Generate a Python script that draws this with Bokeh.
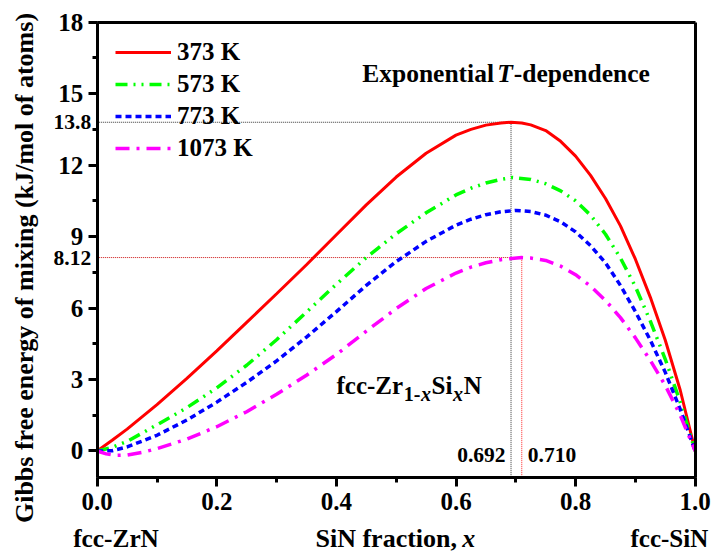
import math
from bokeh.plotting import figure
from bokeh.models import Range1d, FixedTicker, Label, Legend, LegendItem, NumeralTickFormatter, LinearAxis
from bokeh.embed import file_html
from bokeh.resources import INLINE

# ---- data ----
x_373 = [0.0, 0.025, 0.05, 0.1, 0.15, 0.2, 0.25, 0.3, 0.35, 0.4, 0.45, 0.5, 0.55, 0.6, 0.625, 0.65, 0.675,
         0.692, 0.71, 0.725, 0.75, 0.775, 0.8, 0.825, 0.85, 0.875, 0.9, 0.925, 0.95, 0.975, 1.0]
g_373 = [0.0, 0.45, 0.92, 1.95, 3.05, 4.2, 5.4, 6.6, 7.82, 9.08, 10.33, 11.5, 12.5, 13.26, 13.5, 13.68, 13.77,
         13.8, 13.77, 13.69, 13.45, 13.0, 12.38, 11.57, 10.6, 9.45, 8.05, 6.45, 4.65, 2.55, 0.0]

x_573 = [0.0, 0.025, 0.05, 0.1, 0.15, 0.2, 0.25, 0.3, 0.35, 0.4, 0.45, 0.5, 0.55, 0.6, 0.625, 0.65, 0.675,
         0.695, 0.725, 0.75, 0.775, 0.8, 0.825, 0.85, 0.875, 0.9, 0.925, 0.95, 0.975, 1.0]
g_573 = [0.0, 0.15, 0.4, 1.1, 1.82, 2.65, 3.6, 4.67, 5.83, 7.0, 8.12, 9.12, 10.0, 10.75, 11.03, 11.25, 11.4,
         11.48, 11.4, 11.22, 10.92, 10.5, 9.9, 9.1, 8.1, 6.9, 5.45, 3.85, 2.05, 0.0]

x_773 = [0.0, 0.025, 0.05, 0.1, 0.15, 0.2, 0.25, 0.3, 0.35, 0.4, 0.45, 0.5, 0.55, 0.6, 0.625, 0.65, 0.675,
         0.7, 0.725, 0.75, 0.775, 0.8, 0.825, 0.85, 0.875, 0.9, 0.925, 0.95, 0.975, 1.0]
g_773 = [0.0, 0.01, 0.17, 0.66, 1.3, 2.05, 2.88, 3.78, 4.78, 5.85, 6.95, 7.95, 8.8, 9.48, 9.73, 9.92, 10.04,
         10.1, 10.05, 9.9, 9.62, 9.2, 8.62, 7.9, 6.95, 5.85, 4.65, 3.3, 1.75, 0.0]

x_1073 = [0.0, 0.015, 0.03, 0.05, 0.075, 0.1, 0.15, 0.2, 0.25, 0.3, 0.35, 0.4, 0.45, 0.5, 0.55, 0.6, 0.625,
          0.65, 0.675, 0.71, 0.725, 0.75, 0.775, 0.8, 0.825, 0.85, 0.875, 0.9, 0.925, 0.95, 0.975, 1.0]
g_1073 = [0.0, -0.12, -0.18, -0.17, -0.06, 0.1, 0.5, 1.02, 1.65, 2.38, 3.18, 4.05, 5.03, 5.98, 6.82, 7.47, 7.72,
          7.9, 8.03, 8.12, 8.1, 8.0, 7.76, 7.4, 6.92, 6.32, 5.6, 4.75, 3.8, 2.75, 1.5, 0.0]

series_labels = ["373 K", "573 K", "773 K", "1073 K"]
x_ticks = [0.0, 0.2, 0.4, 0.6, 0.8, 1.0]
x_minor = [0.1 * i for i in range(11)]
y_ticks = [0, 3, 6, 9, 12, 15, 18]
y_minor = [1.5 * i for i in range(13)]
peak_x_373, peak_g_373 = 0.692, 13.8
peak_x_1073, peak_g_1073 = 0.710, 8.12

FONT = "Liberation Serif"
W, H = 711, 553
X0, X1 = 0.0, 1.0
Y0, Y1 = -1.1, 18.0
# plot box inside the canvas (pixels)
BL, BR, BT, BB = 96.7, 694.7, 21.7, 476.7
sx = (X1 - X0) / (BR - BL)
sy = (Y1 - Y0) / (BB - BT)
XA, XB = X0 - BL * sx, X1 + (W - BR) * sx
YA, YB = Y0 - (H - BB) * sy, Y1 + BT * sy

p = figure(width=W, height=H, output_backend="svg", toolbar_location=None,
           x_range=Range1d(XA, XB), y_range=Range1d(YA, YB),
           x_axis_location=None, y_axis_location=None, min_border=0)
p.background_fill_color = "white"
p.border_fill_color = "white"
p.grid.visible = False
p.outline_line_color = None


def style_axis(ax):
    ax.axis_line_width = 3
    ax.axis_line_color = "black"
    ax.major_tick_line_width = 3
    ax.minor_tick_line_width = 3
    ax.major_tick_out = 9
    ax.major_tick_in = 0
    ax.minor_tick_out = 5
    ax.minor_tick_in = 0
    ax.major_label_text_font = FONT
    ax.major_label_text_font_style = "bold"
    ax.major_label_text_font_size = "25px"
    ax.major_label_text_color = "black"


xa = LinearAxis(fixed_location=Y0, bounds=(X0, X1),
                ticker=FixedTicker(ticks=x_ticks, minor_ticks=x_minor),
                formatter=NumeralTickFormatter(format="0.0"))
style_axis(xa)
xa.major_label_standoff = 7
p.add_layout(xa, "below")

ya = LinearAxis(fixed_location=X0, bounds=(Y0, Y1),
                ticker=FixedTicker(ticks=y_ticks, minor_ticks=y_minor))
style_axis(ya)
ya.major_label_standoff = 5
p.add_layout(ya, "left")

ta = LinearAxis(fixed_location=Y1, bounds=(X0, X1), ticker=FixedTicker(ticks=[], minor_ticks=[]),
                axis_line_width=3, major_label_text_color=None)
p.add_layout(ta, "above")
ra = LinearAxis(fixed_location=X1, bounds=(Y0, Y1), ticker=FixedTicker(ticks=[], minor_ticks=[]),
                axis_line_width=3, major_label_text_color=None)
p.add_layout(ra, "right")

# reference lines
p.line([X0, peak_x_373], [peak_g_373, peak_g_373], line_color="#333333", line_width=1, line_dash="1 1")
p.line([peak_x_373, peak_x_373], [Y0, peak_g_373], line_color="#333333", line_width=1, line_dash="1 1")
p.line([X0, peak_x_1073], [peak_g_1073, peak_g_1073], line_color="#cc1111", line_width=1, line_dash="1 1")
p.line([peak_x_1073, peak_x_1073], [Y0, peak_g_1073], line_color="#ff2222", line_width=1, line_dash="1 1")

r1 = p.line(x_373, g_373, line_color="#ff0000", line_width=3)
r2 = p.line(x_573, g_573, line_color="#00ff00", line_width=3.5, line_dash="12 6 2 6 2 6")
r3 = p.line(x_773, g_773, line_color="#0000ff", line_width=3.5, line_dash="6 4")
r4 = p.line(x_1073, g_1073, line_color="#ff00ff", line_width=3.5, line_dash="14 7 3 7")

legend = Legend(items=[LegendItem(label=series_labels[i], renderers=[r]) for i, r in enumerate([r1, r2, r3, r4])],
                location=(115, 389), padding=0, margin=0, spacing=0, glyph_width=56, glyph_height=32,
                label_height=32, label_standoff=6, border_line_color=None, background_fill_alpha=0,
                label_text_font=FONT, label_text_font_style="bold", label_text_font_size="25px",
                label_text_color="black")
p.add_layout(legend)


def px2x(px):
    return X0 + (px - BL) * sx


def py2y(py):
    return Y0 + (BB - py) * sy


def lab(text, x_px, base_px, size, style="bold", align="left"):
    # vertical placement by the middle of the em box (baseline - 0.34 em)
    mid = base_px - 0.34 * size
    p.add_layout(Label(x=px2x(x_px), y=py2y(mid), text=text, text_font=FONT, text_font_style=style,
                       text_font_size=f"{size}px", text_align=align, text_baseline="middle",
                       text_color="black"))


# annotation with italic T
lab("Exponential", 361.7, 81.7, 25.5)
lab("T", 496.7, 81.7, 25.5, style="bold italic")
lab("-dependence", 513.3, 81.7, 25.5)

# compound label fcc-Zr(1-x)Si(x)N, pieces placed one after another (Times-bold advance widths)
EM = {"fcc-Zr": 2.665, "1-": 0.833, "x": 0.5, "Si": 0.834, "N": 0.722}
pieces = [("fcc-Zr", 25, 0, "bold"), ("1-", 20, 7.4, "bold"), ("x", 20, 7.4, "bold italic"),
          ("Si", 25, 0, "bold"), ("x", 20, 7.4, "bold italic"), ("N", 25, 0, "bold")]
cur = 336.0
for txt, sz, drop, st in pieces:
    lab(txt, cur, 393.3 + drop, sz, style=st)
    cur += EM[txt] * sz + 0.6

# peak annotations
lab("0.692", 505, 461.7, 21.5, align="right")
lab("0.710", 527.3, 461.7, 21.5)
p.add_layout(Label(x=px2x(90.7), y=peak_g_373, text="13.8", text_font=FONT, text_font_style="bold",
                   text_font_size="21.5px", text_align="right", text_baseline="middle", text_color="black"))
p.add_layout(Label(x=px2x(90.7), y=peak_g_1073, text="8.12", text_font=FONT, text_font_style="bold",
                   text_font_size="21.5px", text_align="right", text_baseline="middle", text_color="black"))

# texts under the x axis
lab("fcc-ZrN", 72.7, 546.5, 25.3)
lab("SiN fraction,", 315, 546.5, 26)
lab("x", 461.7, 546.5, 26, style="bold italic")
lab("fcc-SiN", 630, 546.5, 25)

# y axis title
p.add_layout(Label(x=px2x(24), y=py2y(267.5), text="Gibbs free energy of mixing (kJ/mol of atoms)",
                   text_font=FONT, text_font_style="bold", text_font_size="26px", text_align="center",
                   text_baseline="middle", angle=math.pi / 2, text_color="black"))

open("out.html", "w").write(file_html(p, INLINE))
